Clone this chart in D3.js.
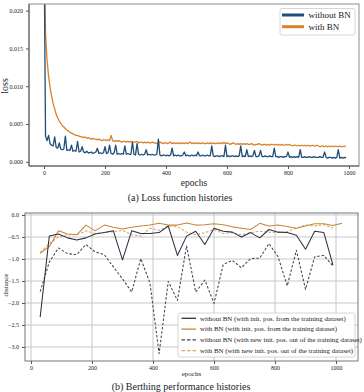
<!DOCTYPE html>
<html><head><meta charset="utf-8">
<script src="https://cdn.jsdelivr.net/npm/d3@7"></script>
<style>
body{margin:0;background:#fff}
svg{display:block}
text{font-family:"Liberation Serif","Times New Roman",serif;fill:#222}
</style>
</head><body><svg id="c" width="364" height="392"></svg>
<script>
// ---------- (a) loss histories: one value every 5 epochs, in units of 1e-4 ----------
const lossEpochStep = 5;
const lossWithoutBN = [
300,34,28,35,24,22,21,33,19,18,
25,17,16,17,34,15,16,15,22,14,
15,14,27,13,14,20,13,12,14,12,
12,13,11,12,13,18,11,12,11,12,
20,11,12,22,11,10,12,22,10,11,
10,11,10,21,10,11,10,10,26,10,
9,24,10,9,10,9,10,16,9,10,
9,10,9,9,10,30,9,8,9,9,
8,9,8,9,18,8,9,8,9,8,
8,9,13,8,9,8,8,9,8,9,
8,13,8,8,9,8,8,9,8,8,
21,8,7,8,8,7,8,8,7,22,
7,8,7,8,8,7,8,7,8,21,
7,8,7,16,7,8,7,8,15,7,
7,8,15,7,7,8,7,7,8,7,
7,18,7,7,6,7,7,6,7,7,
13,6,7,6,7,6,7,6,16,6,
6,7,6,6,7,6,6,7,6,6,
6,7,6,6,13,6,5,6,6,5,
6,5,6,16,5,6,5,6,5
];
const lossWithBN = [
300,170,135,113,98,87,77,70,63,58,
54,51,48,46,44,42,41,39,38,37,
36,35,35,34,33,33,32,33,31,32,
31,30,31,30,30,29,30,29,28,29,
29,28,29,28,35,28,27,28,27,28,
27,26,27,27,26,27,26,27,26,26,
26,27,25,26,26,25,26,25,26,25,
25,26,25,25,24,25,26,25,24,25,
25,24,25,26,24,25,24,25,24,25,
24,25,24,25,24,25,26,24,25,24,
25,24,25,24,25,24,24,25,24,25,
24,25,24,24,25,24,25,24,26,24,
25,24,23,24,25,24,23,24,23,24,
23,24,23,24,23,23,24,23,22,23,
23,24,23,22,23,23,22,23,22,23,
23,22,23,22,23,22,23,22,22,23,
22,23,22,21,22,22,21,22,21,22,
21,22,21,22,21,21,22,21,21,22,
21,20,21,21,20,21,20,21,20,21,
20,21,20,20,21,20,20,21,20
];
const lossXTicks = [0,200,400,600,800,1000];
const lossYTicks = [0.000,0.005,0.010,0.015,0.020];
const lossNames = ["without BN","with BN"];
const lossColors = ["#1f4e79","#d9822b"];

// ---------- (b) berthing performance ----------
const berthEpochs = [30,60,90,120,150,180,210,240,270,300,330,360,390,420,450,480,510,540,570,600,630,660,690,720,750,780,810,840,870,900,930,960,990,1020];
const distWithoutBNTrain = [-2.32,-0.48,-0.43,-0.52,-0.57,-0.52,-0.43,-0.40,-0.36,-1.02,-0.36,-0.42,-0.42,-0.40,-0.25,-0.92,-0.48,-0.37,-0.67,-0.30,-0.37,-0.39,-0.50,-0.40,-0.52,-0.33,-0.39,-0.40,-0.46,-0.78,-0.37,-0.40,-1.14];
const distWithBNTrain = [-0.87,-0.72,-0.36,-0.43,-0.45,-0.23,-0.36,-0.23,-0.28,-0.32,-0.28,-0.25,-0.23,-0.19,-0.23,-0.23,-0.18,-0.23,-0.22,-0.20,-0.22,-0.27,-0.30,-0.33,-0.19,-0.25,-0.23,-0.26,-0.30,-0.25,-0.20,-0.20,-0.24,-0.19];
const distWithoutBNNew = [-1.74,-1.07,-0.75,-0.88,-0.90,-0.67,-0.84,-0.90,-1.18,-1.45,-1.75,-0.99,-1.55,-3.15,-1.51,-1.94,-0.70,-1.75,-1.48,-2.01,-1.13,-1.03,-1.20,-0.99,-0.98,-0.65,-0.95,-1.61,-0.80,-1.69,-0.95,-0.92,-1.16];
const distWithBNNew = [-0.85,-0.65,-0.50,-0.45,-0.45,-0.36,-0.42,-0.40,-0.38,-0.35,-0.45,-0.48,-0.30,-0.35,-0.25,-0.27,-0.39,-0.45,-0.40,-0.33,-0.42,-0.40,-0.45,-0.40,-0.37,-0.39,-0.40,-0.38,-0.30,-0.23,-0.25,-0.22,-0.30];
const berthXTicks = [0,200,400,600,800,1000];
const berthYTicks = [0.0,-0.5,-1.0,-1.5,-2.0,-2.5,-3.0];
const berthNames = [
 "without BN (with init. pos. from the training dataset)",
 "with BN (with init. pos. from the training dataset)",
 "without BN (with new init. pos. out of the training dataset)",
 "with BN (with new init. pos. out of the training dataset)"
];
const berthColors = ["#2b3340","#c8863a","#3d4550","#d9a55c"];
const berthDash = [null,null,"2.5,1.8","2.5,1.8"];

const svg = d3.select("#c");
const fmtMinus = s => s.replace("-","\u2212");

// ===== Chart (a) =====
{
  const L=29,R=359,T=4,B=166;
  const x = d3.scaleLinear().domain([-49.2,1032.8]).range([L,R]);
  const y = d3.scaleLinear().domain([-0.00055,0.02088]).range([B,T]);
  const g = svg.append("g");
  g.append("clipPath").attr("id","clipA").append("rect").attr("x",L).attr("y",T).attr("width",R-L).attr("height",B-T);
  const series = [lossWithoutBN, lossWithBN];
  const line = d3.line().x((d,i)=>x(i*lossEpochStep)).y(d=>y(d*1e-4));
  [1,0].forEach(k=>{
    g.append("path").attr("clip-path","url(#clipA)").attr("d",line(series[k]))
     .attr("fill","none").attr("stroke",lossColors[k]).attr("stroke-width",1.3).attr("stroke-linejoin","round");
  });
  g.append("rect").attr("x",L).attr("y",T).attr("width",R-L).attr("height",B-T).attr("fill","none").attr("stroke","#a0a0a0").attr("stroke-width",1.2);
  g.append("line").attr("x1",L).attr("x2",L).attr("y1",T).attr("y2",B).attr("stroke","#555").attr("stroke-width",1);
  g.append("line").attr("x1",L).attr("x2",R).attr("y1",B).attr("y2",B).attr("stroke","#555").attr("stroke-width",1);
  const xa = g.append("g").attr("transform",`translate(0,${B})`).call(d3.axisBottom(x).tickValues(lossXTicks).tickSize(3).tickFormat(d3.format("d")));
  const ya = g.append("g").attr("transform",`translate(${L},0)`).call(d3.axisLeft(y).tickValues(lossYTicks).tickSize(3).tickFormat(d3.format(".3f")));
  [xa,ya].forEach(a=>{a.select(".domain").remove();a.selectAll("line").attr("stroke","#555");a.selectAll("text").attr("font-size",6).attr("font-family","Liberation Serif").attr("fill","#222");});
  xa.selectAll("text").attr("y",5);
  g.append("text").attr("x",(L+R)/2).attr("y",186).attr("text-anchor","middle").attr("font-size",9.5).text("epochs");
  g.append("text").attr("transform","translate(8,86) rotate(-90)").attr("text-anchor","middle").attr("font-size",10).text("loss");
  g.append("rect").attr("x",280).attr("y",8.5).attr("width",75).attr("height",26.5).attr("rx",2).attr("fill","#fff").attr("fill-opacity",0.9).attr("stroke","#ccc").attr("stroke-width",0.8);
  lossNames.forEach((n,i)=>{
    const yy = 15+i*11.7;
    g.append("line").attr("x1",282).attr("x2",304).attr("y1",yy).attr("y2",yy).attr("stroke",lossColors[i]).attr("stroke-width",3);
    g.append("text").attr("x",308.5).attr("y",yy+3).attr("font-size",9).text(n);
  });
  g.append("text").attr("x",180).attr("y",201).attr("text-anchor","middle").attr("font-size",10).text("(a) Loss function histories");
}

// ===== Chart (b) =====
{
  const L=25,R=358,T=213,B=361;
  const x = d3.scaleLinear().domain([-19.7,1072]).range([L,R]);
  const y = d3.scaleLinear().domain([-3.318,0.045]).range([B,T]);
  const g = svg.append("g");
  g.append("clipPath").attr("id","clipB").append("rect").attr("x",L).attr("y",T).attr("width",R-L).attr("height",B-T);
  berthXTicks.forEach(t=>g.append("line").attr("x1",x(t)).attr("x2",x(t)).attr("y1",T).attr("y2",B).attr("stroke","#c8c8c8").attr("stroke-width",1));
  berthYTicks.forEach(t=>g.append("line").attr("x1",L).attr("x2",R).attr("y1",y(t)).attr("y2",y(t)).attr("stroke","#c8c8c8").attr("stroke-width",1));
  const series = [distWithoutBNTrain, distWithBNTrain, distWithoutBNNew, distWithBNNew];
  const line = d3.line().x((d,i)=>x(berthEpochs[i])).y(d=>y(d));
  [2,3,1,0].forEach(k=>{
    const p = g.append("path").attr("clip-path","url(#clipB)").attr("d",line(series[k]))
      .attr("fill","none").attr("stroke",berthColors[k]).attr("stroke-width",1.05).attr("stroke-linejoin","round");
    if(berthDash[k]) p.attr("stroke-dasharray",berthDash[k]);
  });
  g.append("rect").attr("x",L).attr("y",T).attr("width",R-L).attr("height",B-T).attr("fill","none").attr("stroke","#777").attr("stroke-width",1);
  const xa = g.append("g").attr("transform",`translate(0,${B})`).call(d3.axisBottom(x).tickValues(berthXTicks).tickSize(3).tickFormat(d3.format("d")));
  const ya = g.append("g").attr("transform",`translate(${L},0)`).call(d3.axisLeft(y).tickValues(berthYTicks).tickSize(3).tickFormat(d=>fmtMinus(d3.format(".1f")(d))));
  [xa,ya].forEach(a=>{a.select(".domain").remove();a.selectAll("line").attr("stroke","#555");a.selectAll("text").attr("font-size",6).attr("font-family","Liberation Serif").attr("fill","#222");});
  xa.selectAll("text").attr("y",5);
  g.append("text").attr("x",(L+R)/2).attr("y",375.5).attr("text-anchor","middle").attr("font-size",7).text("epochs");
  g.append("text").attr("transform","translate(8,285) rotate(-90)").attr("text-anchor","middle").attr("font-size",7).text("distance");
  g.append("rect").attr("x",178).attr("y",313).attr("width",177).attr("height",44).attr("rx",2).attr("fill","#fff").attr("fill-opacity",0.9).attr("stroke","#ccc").attr("stroke-width",0.8);
  berthNames.forEach((n,i)=>{
    const yy = 318.3+i*10.8;
    const l = g.append("line").attr("x1",181.5).attr("x2",196).attr("y1",yy).attr("y2",yy).attr("stroke",berthColors[i]).attr("stroke-width",1.3);
    if(berthDash[i]) l.attr("stroke-dasharray","3.5,2");
    g.append("text").attr("x",200).attr("y",yy+2.3).attr("font-size",6.9).text(n);
  });
  g.append("text").attr("x",181).attr("y",389.5).attr("text-anchor","middle").attr("font-size",10).text("(b) Berthing performance histories");
}
</script></body></html>
